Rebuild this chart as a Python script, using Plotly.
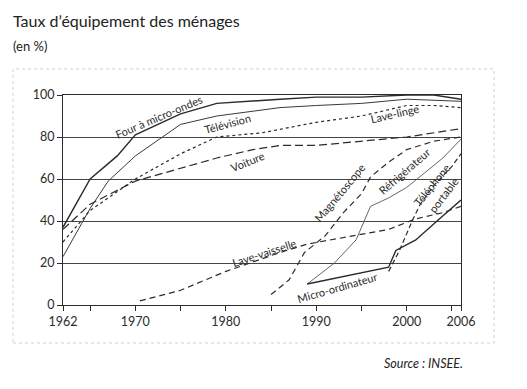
import plotly.graph_objects as go

# ---- data ----
four_years = [1962, 1965, 1968, 1970, 1975, 1979, 1986, 1990, 1995, 2000, 2003, 2006]
four_vals = [37, 60, 71, 81, 91, 96, 98, 99, 99, 100, 100, 98]

tele_years = [1962, 1965, 1967, 1970, 1974, 1975, 1979, 1986, 1990, 1995, 2000, 2006]
tele_vals = [23, 46, 59, 71, 83, 86, 90, 94, 95, 96, 98, 97]

voit_years = [1962, 1965, 1970, 1975, 1979, 1983, 1986, 1990, 1995, 2000, 2006]
voit_vals = [36, 48, 59, 65, 70, 74, 76, 76, 78, 80, 84]

linge_years = [1962, 1965, 1970, 1975, 1979, 1984, 1990, 1995, 2000, 2003, 2006]
linge_vals = [30, 45, 60, 72, 80, 82, 87, 90, 95, 95, 94]

vaiss_years = [1970.5, 1975, 1980, 1986, 1989, 1993, 1998, 2001, 2004, 2006]
vaiss_vals = [2, 7, 16, 25, 29, 32, 36, 41, 44, 47]

magneto_years = [1985, 1987, 1988.7, 1991, 1993, 1995, 1996, 1998, 2000, 2003, 2006]
magneto_vals = [5, 12, 25, 33, 44, 53, 61, 68, 74, 78, 80]

refrig_years = [1989, 1992, 1994.4, 1996, 1998, 2000, 2002, 2004, 2006]
refrig_vals = [10, 20, 31, 47, 51, 56, 63, 70, 79]

tel_years = [1998, 1999.2, 2000.7, 2001.5, 2003, 2005, 2006]
tel_vals = [16, 26, 41, 48, 57, 66, 72]

micro_years = [1989, 1998, 1998.8, 2001, 2003.6, 2006]
micro_vals = [10, 18, 26, 31, 41, 50]

x_tickvals = [1962, 1965, 1970, 1975, 1980, 1985, 1990, 1995, 2000, 2005, 2006]
x_ticktext = ["1962", "", "1970", "", "1980", "", "1990", "", "2000", "", "2006"]
y_tickvals = [0, 20, 40, 60, 80, 100]

# labels: (text, year, value, angle)
labels = [
    ("Four à micro-ondes", 1972.6, 90, -23),
    ("Télévision", 1980.2, 86.2, -15),
    ("Voiture", 1982.4, 68.2, -22),
    ("Lave-linge", 1998.7, 91.4, -13),
    ("Magnétoscope", 1992.6, 53.5, -50),
    ("Réfrigérateur", 1999.7, 63.4, -41),
    ("Téléphone", 2002.8, 57.2, -51),
    ("portable", 2004.1, 52.6, -53),
    ("Lave-vaisselle", 1984.3, 24.9, -18),
    ("Micro-ordinateur", 1992.3, 8.4, -16),
]

INK = "#2b2b2b"
FONT = "Lato"

series = [
    (four_years, four_vals, "solid", 1.4, INK),
    (tele_years, tele_vals, "solid", 1.0, "#3a3a3a"),
    (voit_years, voit_vals, "8px,4px", 1.2, INK),
    (linge_years, linge_vals, "3px,3px", 1.2, INK),
    (vaiss_years, vaiss_vals, "6px,4px", 1.2, INK),
    (magneto_years, magneto_vals, "6px,4px", 1.2, INK),
    (refrig_years, refrig_vals, "solid", 0.9, "#555555"),
    (tel_years, tel_vals, "5px,3px", 1.2, INK),
    (micro_years, micro_vals, "solid", 1.4, INK),
]

fig = go.Figure()
for xs, ys, dash, w, c in series:
    fig.add_trace(go.Scatter(x=xs, y=ys, mode="lines",
                             line=dict(color=c, width=w, dash=dash),
                             showlegend=False, hoverinfo="skip"))

for text, xv, yv, ang in labels:
    fig.add_annotation(x=xv, y=yv, text=text, textangle=ang, showarrow=False,
                       font=dict(family=FONT, size=11, color=INK))

fig.update_xaxes(range=[1962, 2006], tickvals=x_tickvals, ticktext=x_ticktext,
                 ticks="outside", ticklen=5, tickcolor=INK, showgrid=False,
                 showline=True, linecolor=INK, linewidth=1, mirror=True,
                 zeroline=False, tickfont=dict(family=FONT, size=12.5, color=INK))
fig.update_yaxes(range=[0, 100], tickvals=y_tickvals, ticks="outside", ticklen=5,
                 tickcolor=INK, showgrid=True, gridcolor="#444444", gridwidth=1,
                 showline=True, linecolor=INK, linewidth=1, mirror=True,
                 zeroline=False, tickfont=dict(family=FONT, size=12.5, color=INK))

# outer faint frame
fig.add_shape(type="rect", xref="paper", yref="paper",
              x0=-0.1256, x1=1.083, y0=-0.181, y1=1.124,
              line=dict(color="#cfcfcf", width=1, dash="dot"), layer="below")

fig.add_annotation(xref="paper", yref="paper", x=-0.13, y=1.355, xanchor="left",
                   yanchor="middle", showarrow=False,
                   text="Taux d’équipement des ménages",
                   font=dict(family=FONT, size=16, color="#222222"))
fig.add_annotation(xref="paper", yref="paper", x=-0.13, y=1.232, xanchor="left",
                   yanchor="middle", showarrow=False, text="(en %)",
                   font=dict(family=FONT, size=13, color="#222222"))
fig.add_annotation(xref="paper", yref="paper", x=1.01, y=-0.277, xanchor="right",
                   yanchor="middle", showarrow=False, text="<i>Source : INSEE.</i>",
                   font=dict(family=FONT, size=12.5, color="#222222"))

# the page body has an 8px margin: shrink the canvas and margins to compensate
fig.update_layout(width=519, height=381, margin=dict(l=55, r=66, t=87, b=84),
                  paper_bgcolor="white", plot_bgcolor="white")

fig.write_html("out.html")
